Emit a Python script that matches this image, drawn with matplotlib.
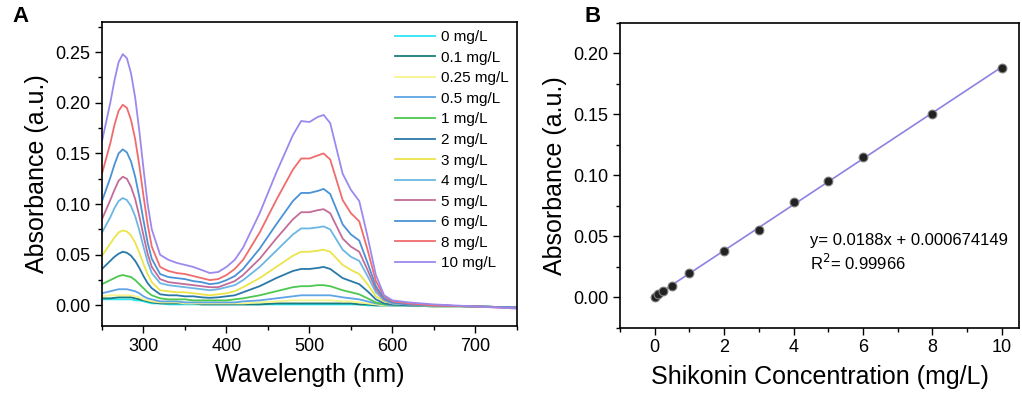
import matplotlib
matplotlib.use('Agg')
import matplotlib.pyplot as plt
from matplotlib.ticker import MultipleLocator, FormatStrFormatter

plt.rcParams['font.family'] = ['Liberation Sans', 'DejaVu Sans']

# --- panel A: UV-vis spectra ---
wavelength = [250, 260, 265, 270, 275, 280, 285, 290, 295, 300, 305, 310, 320, 330, 340, 350, 360, 370,
              380, 390, 400, 410, 420, 440, 460, 480, 490, 500, 510, 517, 525, 540,
              550, 560, 570, 580, 590, 600, 620, 650, 700, 750]

labels = ['0 mg/L', '0.1 mg/L', '0.25 mg/L', '0.5 mg/L', '1 mg/L', '2 mg/L', '3 mg/L',
          '4 mg/L', '5 mg/L', '6 mg/L', '8 mg/L', '10 mg/L']
colors = ['#2ee6f2', '#1c7c78', '#f7f48c', '#5fa4e6', '#4cc850', '#2a78a8', '#ece44a',
          '#6cb6e4', '#c46c98', '#4a92d6', '#f06c6c', '#9d88ee']

abs_0 = [0.006, 0.006, 0.006, 0.006, 0.006, 0.006, 0.006, 0.005, 0.005, 0.004, 0.003, 0.002, 0.002, 0.001, 0.001, 0.001, 0.001, 0.001,
         0.001, 0.001, 0.001, 0.001, 0.001, 0.001, 0.001, 0.001, 0.001, 0.001, 0.001, 0.001, 0.001, 0.001,
         0.001, 0.001, 0.000, 0.000, 0.000, 0.000, -0.000, -0.001, -0.001, -0.002]
abs_01 = [0.007, 0.007, 0.0075, 0.008, 0.008, 0.008, 0.008, 0.007, 0.006, 0.005, 0.004, 0.003, 0.002, 0.002, 0.002, 0.002, 0.002, 0.001,
          0.001, 0.001, 0.001, 0.001, 0.001, 0.001, 0.002, 0.002, 0.002, 0.002, 0.002, 0.002, 0.002, 0.002,
          0.002, 0.001, 0.001, 0.000, 0.000, 0.000, -0.000, -0.001, -0.001, -0.002]
abs_025 = [0.009, 0.010, 0.010, 0.010, 0.010, 0.010, 0.010, 0.009, 0.008, 0.006, 0.005, 0.004, 0.003, 0.003, 0.003, 0.002, 0.002, 0.002,
           0.002, 0.002, 0.002, 0.002, 0.002, 0.003, 0.004, 0.005, 0.005, 0.005, 0.005, 0.005, 0.005, 0.004,
           0.004, 0.003, 0.002, 0.001, 0.000, 0.000, 0.000, -0.001, -0.001, -0.002]
abs_05 = [0.012, 0.014, 0.015, 0.016, 0.016, 0.016, 0.015, 0.014, 0.012, 0.009, 0.007, 0.006, 0.004, 0.004, 0.004, 0.003, 0.003, 0.003,
          0.003, 0.003, 0.003, 0.003, 0.004, 0.005, 0.007, 0.009, 0.010, 0.010, 0.010, 0.010, 0.010, 0.008,
          0.007, 0.006, 0.004, 0.002, 0.001, 0.000, 0.000, -0.000, -0.001, -0.002]
abs_1 = [0.021, 0.025, 0.027, 0.029, 0.030, 0.029, 0.028, 0.025, 0.021, 0.017, 0.013, 0.010, 0.007, 0.006, 0.006, 0.006, 0.005, 0.005,
         0.005, 0.005, 0.005, 0.006, 0.007, 0.010, 0.014, 0.018, 0.019, 0.019, 0.020, 0.020, 0.019, 0.015,
         0.013, 0.011, 0.007, 0.003, 0.001, 0.001, 0.000, 0.000, -0.001, -0.002]
abs_2 = [0.036, 0.044, 0.048, 0.051, 0.053, 0.052, 0.049, 0.044, 0.037, 0.029, 0.022, 0.017, 0.011, 0.010, 0.010, 0.009, 0.009, 0.008,
         0.0075, 0.008, 0.009, 0.010, 0.013, 0.019, 0.027, 0.034, 0.036, 0.036, 0.037, 0.038, 0.036, 0.027,
         0.024, 0.021, 0.014, 0.006, 0.002, 0.001, 0.000, 0.000, -0.001, -0.002]
abs_3 = [0.049, 0.061, 0.067, 0.072, 0.074, 0.073, 0.069, 0.062, 0.052, 0.041, 0.031, 0.023, 0.015, 0.014, 0.013, 0.013, 0.012, 0.011,
         0.010, 0.011, 0.012, 0.014, 0.018, 0.027, 0.038, 0.049, 0.053, 0.053, 0.054, 0.055, 0.053, 0.040,
         0.035, 0.031, 0.021, 0.009, 0.004, 0.002, 0.001, 0.000, -0.001, -0.002]
abs_4 = [0.072, 0.087, 0.096, 0.103, 0.106, 0.104, 0.098, 0.088, 0.074, 0.058, 0.043, 0.032, 0.022, 0.020, 0.019, 0.018, 0.017, 0.016,
         0.015, 0.016, 0.018, 0.020, 0.025, 0.038, 0.054, 0.070, 0.076, 0.076, 0.077, 0.078, 0.075, 0.055,
         0.048, 0.044, 0.029, 0.013, 0.005, 0.002, 0.001, 0.000, -0.001, -0.002]
abs_5 = [0.085, 0.104, 0.114, 0.123, 0.127, 0.125, 0.117, 0.105, 0.088, 0.069, 0.051, 0.038, 0.026, 0.023, 0.022, 0.021, 0.020, 0.019,
         0.018, 0.018, 0.021, 0.024, 0.030, 0.046, 0.066, 0.085, 0.092, 0.092, 0.094, 0.095, 0.091, 0.066,
         0.058, 0.053, 0.035, 0.016, 0.006, 0.003, 0.001, 0.000, -0.001, -0.002]
abs_6 = [0.103, 0.126, 0.139, 0.150, 0.154, 0.151, 0.142, 0.127, 0.107, 0.084, 0.062, 0.046, 0.031, 0.028, 0.027, 0.026, 0.024, 0.023,
         0.021, 0.022, 0.025, 0.029, 0.036, 0.056, 0.080, 0.103, 0.111, 0.111, 0.113, 0.115, 0.110, 0.080,
         0.070, 0.064, 0.042, 0.019, 0.007, 0.003, 0.001, 0.000, -0.001, -0.002]
abs_8 = [0.130, 0.160, 0.178, 0.192, 0.198, 0.195, 0.183, 0.164, 0.138, 0.108, 0.080, 0.058, 0.038, 0.034, 0.032, 0.031, 0.029, 0.027,
         0.025, 0.026, 0.030, 0.036, 0.045, 0.072, 0.104, 0.134, 0.145, 0.145, 0.148, 0.150, 0.144, 0.104,
         0.091, 0.083, 0.055, 0.024, 0.009, 0.004, 0.002, 0.000, -0.001, -0.003]
abs_10 = [0.162, 0.200, 0.222, 0.240, 0.248, 0.244, 0.229, 0.205, 0.172, 0.135, 0.100, 0.075, 0.050, 0.045, 0.042, 0.040, 0.038, 0.035,
          0.032, 0.033, 0.038, 0.045, 0.057, 0.091, 0.131, 0.168, 0.182, 0.181, 0.186, 0.188, 0.180, 0.130,
          0.114, 0.103, 0.068, 0.030, 0.010, 0.005, 0.003, 0.001, -0.001, -0.003]

spectra = [abs_0, abs_01, abs_025, abs_05, abs_1, abs_2, abs_3, abs_4, abs_5, abs_6, abs_8, abs_10]

# --- panel B: calibration ---
conc = [0, 0.1, 0.25, 0.5, 1, 2, 3, 4, 5, 6, 8, 10]
conc_abs = [0.0003, 0.0027, 0.0049, 0.0093, 0.0195, 0.0378, 0.0548, 0.078, 0.095, 0.115, 0.150, 0.188]
slope = 0.0188
intercept = 0.000674149
fit_x = [0, 10]

fig = plt.figure(figsize=(10.22, 3.96), dpi=100)
ax1 = fig.add_axes([0.0998, 0.1775, 0.406, 0.7677])
ax2 = fig.add_axes([0.6067, 0.1725, 0.3904, 0.770])

for vals, lab, col in zip(spectra, labels, colors):
    ax1.plot(wavelength, vals, color=col, lw=1.3, label=lab)
ax1.set_xlim(250, 750)
ax1.set_ylim(-0.02, 0.28)
ax1.xaxis.set_major_locator(MultipleLocator(100))
ax1.xaxis.set_minor_locator(MultipleLocator(50))
ax1.yaxis.set_major_locator(MultipleLocator(0.05))
ax1.yaxis.set_minor_locator(MultipleLocator(0.025))
ax1.yaxis.set_major_formatter(FormatStrFormatter('%.2f'))
ax1.set_xlabel('Wavelength (nm)', fontsize=18, labelpad=6)
ax1.set_ylabel('Absorbance (a.u.)', fontsize=18)
ax1.legend(loc='upper right', frameon=False, fontsize=11, handlelength=2.6,
           labelspacing=0.43, borderaxespad=0.15, handletextpad=0.4,
           bbox_to_anchor=(1.0, 1.0))

ax2.plot(fit_x, [slope * x + intercept for x in fit_x], color='#8c82e2', lw=1.2, zorder=2)
ax2.scatter(conc, conc_abs, s=40, color='#222222', edgecolors='#808080', linewidths=0.8, zorder=3)
ax2.set_xlim(-1, 10.5)
ax2.set_ylim(-0.025, 0.225)
ax2.xaxis.set_major_locator(MultipleLocator(2))
ax2.xaxis.set_minor_locator(MultipleLocator(1))
ax2.yaxis.set_major_locator(MultipleLocator(0.05))
ax2.yaxis.set_minor_locator(MultipleLocator(0.025))
ax2.yaxis.set_major_formatter(FormatStrFormatter('%.2f'))
ax2.set_xlabel('Shikonin Concentration (mg/L)', fontsize=18, labelpad=6)
ax2.set_ylabel('Absorbance (a.u.)', fontsize=18)
ax2.text(0.475, 0.18, 'y= 0.0188x + 0.000674149\nR$^{2}$= 0.99966', transform=ax2.transAxes,
         fontsize=12, va='bottom', ha='left', linespacing=1.3)

for ax in (ax1, ax2):
    ax.tick_params(which='both', direction='out', labelsize=13)
    ax.tick_params(which='major', length=5, width=1)
    ax.tick_params(which='minor', length=3, width=1)
    for sp in ax.spines.values():
        sp.set_linewidth(1.2)

fig.text(0.012, 0.985, 'A', fontsize=16, fontweight='bold', va='top')
fig.text(0.572, 0.985, 'B', fontsize=16, fontweight='bold', va='top')

fig.savefig('out.png', dpi=100)
